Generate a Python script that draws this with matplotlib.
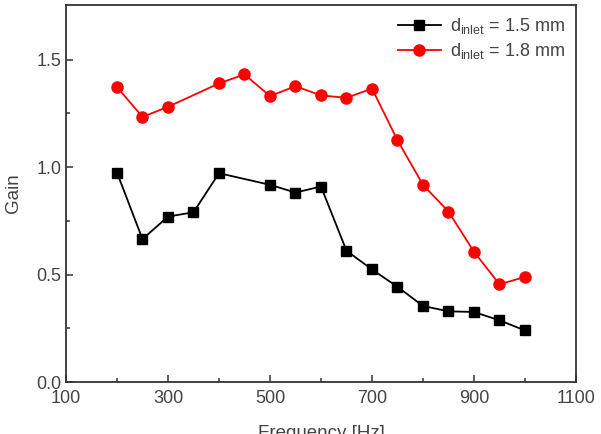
import numpy as np
import matplotlib.pyplot as plt

plt.rcParams["font.family"] = ["Liberation Sans", "DejaVu Sans"]
plt.rcParams["mathtext.fontset"] = "custom"
plt.rcParams["mathtext.rm"] = "Liberation Sans"
plt.rcParams["mathtext.it"] = "Liberation Sans"

# data
freq_15 = [200, 250, 300, 350, 400, 500, 550, 600, 650, 700, 750, 800, 850, 900, 950, 1000]
gain_15 = [0.975, 0.665, 0.770, 0.790, 0.972, 0.918, 0.882, 0.910, 0.611, 0.524,
           0.443, 0.354, 0.329, 0.326, 0.287, 0.240]

freq_18 = [200, 250, 300, 400, 450, 500, 550, 600, 650, 700, 750, 800, 850, 900, 950, 1000]
gain_18 = [1.373, 1.234, 1.281, 1.390, 1.432, 1.331, 1.377, 1.334, 1.323, 1.366,
           1.125, 0.918, 0.793, 0.606, 0.455, 0.489]

labels = [r"d$_{\mathrm{inlet}}$ = 1.5 mm", r"d$_{\mathrm{inlet}}$ = 1.8 mm"]

txt = "#444444"

fig = plt.figure(figsize=(6.01, 4.34), dpi=100)
ax = fig.add_axes([0.1098, 0.1198, 0.8486, 0.8687])

ax.plot(freq_15, gain_15, color="black", marker="s", markersize=7, lw=1.3, label=labels[0])
ax.plot(freq_18, gain_18, color="red", marker="o", markersize=8, lw=1.3, label=labels[1])

ax.set_xlim(100, 1100)
ax.set_ylim(0, 1.755)
ax.set_xticks([100, 300, 500, 700, 900, 1100])
ax.set_xticks([200, 400, 600, 800, 1000], minor=True)
ax.set_yticks([0.0, 0.5, 1.0, 1.5])
ax.set_yticks([0.25, 0.75, 1.25], minor=True)
ax.set_yticklabels(["0.0", "0.5", "1.0", "1.5"])

ax.tick_params(which="both", direction="in", top=False, right=False,
               labelsize=13, labelcolor=txt, color="#333333", width=1.1)
ax.tick_params(which="major", length=5)
ax.tick_params(which="minor", length=3)
ax.tick_params(axis="x", pad=6)
for s in ax.spines.values():
    s.set_color("#333333")
    s.set_linewidth(1.3)

ax.set_xlabel("Frequency [Hz]", fontsize=13.5, color=txt, labelpad=13)
ax.set_ylabel("Gain", fontsize=13.5, color=txt, labelpad=10)

ax.legend(loc="upper right", frameon=False, fontsize=13, handlelength=2.4,
          labelcolor=txt, borderaxespad=0.2, labelspacing=0.3, handletextpad=0.5)

fig.savefig("out.png", dpi=100)
